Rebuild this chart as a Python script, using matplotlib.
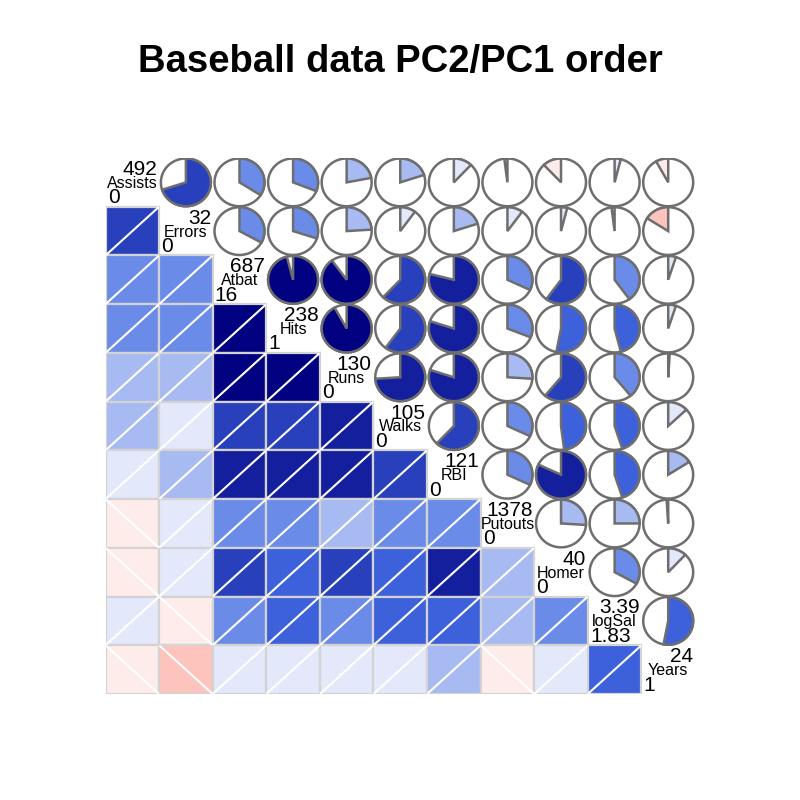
import numpy as np
import matplotlib
matplotlib.use('Agg')
import matplotlib.pyplot as plt
from matplotlib.colors import LinearSegmentedColormap
from matplotlib.patches import Rectangle, Polygon

plt.rcParams['font.family'] = ['Liberation Sans', 'DejaVu Sans']

# variables, in PC2/PC1 order
variables = ['Assists', 'Errors', 'Atbat', 'Hits', 'Runs', 'Walks',
             'RBI', 'Putouts', 'Homer', 'logSal', 'Years']
max_labels = ['492', '32', '687', '238', '130', '105', '121', '1378', '40', '3.39', '24']
min_labels = ['0', '0', '16', '1', '0', '0', '0', '0', '0', '1.83', '1']

# correlations, lower triangle (row i against columns 0..i-1)
cor_lower = [
    [0.70],
    [0.34, 0.33],
    [0.31, 0.30, 0.96],
    [0.22, 0.24, 0.90, 0.92],
    [0.20, 0.10, 0.62, 0.60, 0.74],
    [0.12, 0.20, 0.79, 0.80, 0.80, 0.62],
    [-0.02, 0.10, 0.32, 0.31, 0.26, 0.32, 0.32],
    [-0.12, 0.04, 0.60, 0.53, 0.61, 0.48, 0.82, 0.26],
    [0.04, -0.02, 0.40, 0.46, 0.39, 0.45, 0.45, 0.25, 0.33],
    [-0.08, -0.16, 0.05, 0.05, 0.01, 0.13, 0.16, -0.01, 0.12, 0.53],
]

n = len(variables)
cor = np.eye(n)
for i, row in enumerate(cor_lower, start=1):
    for j, r in enumerate(row):
        cor[i, j] = r
        cor[j, i] = r

# palette like corrgram: 14 colours from red to navy
ramp = LinearSegmentedColormap.from_list('ramp', ['red', 'salmon', 'white', 'royalblue', 'navy'])
pal = [ramp(k / 13) for k in range(14)]

def shade(r):
    k = int(np.ceil((r + 1) * 7)) - 1
    return pal[min(max(k, 0), 13)]

fig = plt.figure(figsize=(8, 8), dpi=100)
ax = fig.add_axes([105.5 / 800, 1 - 694 / 800, 589.5 / 800, 536 / 800])
ax.set_xlim(0, n)
ax.set_ylim(n, 0)
ax.axis('off')

pie_gray = '#6E6E6E'
rx, ry = 0.466, 0.49
t_full = np.linspace(0, 2 * np.pi, 200)

for i in range(n):
    for j in range(n):
        r = cor[i, j]
        if i > j:
            # shaded square + white line
            ax.add_patch(Rectangle((j, i), 1, 1, fc=shade(r), ec='#D3D3D3', lw=1.6, zorder=1))
            if r > 0:
                ax.plot([j + 0.02, j + 0.98], [i + 0.98, i + 0.02], color='white', lw=1.5, zorder=2)
            else:
                ax.plot([j + 0.02, j + 0.98], [i + 0.02, i + 0.98], color='white', lw=1.5, zorder=2)
        elif j > i:
            cx, cy = j + 0.5, i + 0.5
            ax.add_patch(Polygon(np.c_[cx + rx * np.sin(t_full), cy - ry * np.cos(t_full)],
                                 closed=True, fc='white', ec=pie_gray, lw=1.8, zorder=2))
            t = np.linspace(0, 2 * np.pi * r, 100)
            pts = np.c_[cx + rx * np.sin(t), cy - ry * np.cos(t)]
            pts = np.vstack([[cx, cy], pts])
            ax.add_patch(Polygon(pts, closed=True, fc=shade(r), ec=pie_gray, lw=1.8,
                                 joinstyle='miter', zorder=3))
        else:
            ax.text(j + 0.5, i + 0.52, variables[i], ha='center', va='center',
                    fontsize=11.5, zorder=5)
            ax.text(j + 0.97, i + 0.04, max_labels[i], ha='right', va='top',
                    fontsize=15, zorder=5)
            ax.text(j + 0.04, i + 0.93, min_labels[i], ha='left', va='baseline',
                    fontsize=15, zorder=5)

fig.text(0.5, 1 - 72 / 800, 'Baseball data PC2/PC1 order', ha='center', va='baseline',
         fontsize=27.5, fontweight='bold')

fig.savefig('out.png', dpi=100)
